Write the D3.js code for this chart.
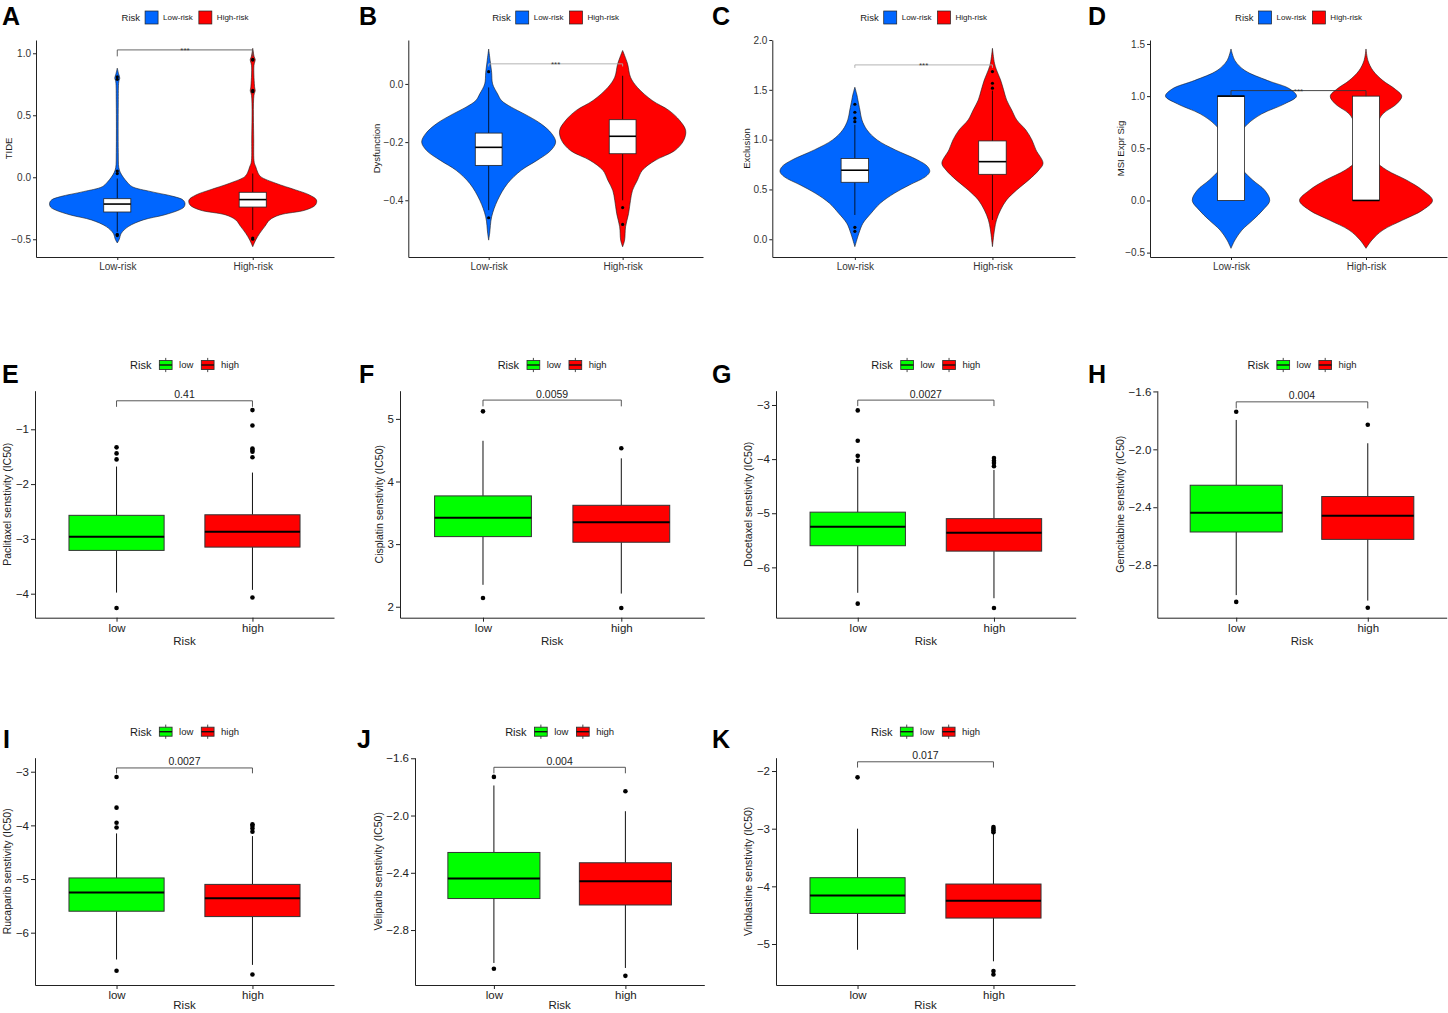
<!DOCTYPE html>
<html><head><meta charset="utf-8">
<script src="https://cdn.jsdelivr.net/npm/d3@7"></script>
<style>body{margin:0;background:#fff} svg{display:block} text{font-family:"Liberation Sans",Arial,Helvetica,sans-serif}</style>
</head><body><svg id="c" width="1448" height="1013"></svg>
<script>
// ===== DATA =====
const riskGroups = ["Low-risk", "High-risk"];
const drugGroups = ["low", "high"];
const legendTitle = "Risk";

// --- violin panels (A-D) ---
const violinLetters = ["A", "B", "C", "D"];
const violinTitles = ["TIDE", "Dysfunction", "Exclusion", "MSI Expr Sig"];
const violinLimits = [[-0.643, 1.107], [-0.595, 0.151], [-0.178, 2.0], [-0.542, 1.538]];
const violinTicks = [[-0.5, 0, 0.5, 1.0], [-0.4, -0.2, 0.0], [0, 0.5, 1.0, 1.5, 2.0], [-0.5, 0, 0.5, 1.0, 1.5]];
const violinSig = ["***", "***", "***", "***"];
const violinBracket = [[1.027, 0.975], [0.069, 0.060], [1.75, 1.72], [1.053, 1.0]];

// density profiles [value, relative density]
const tideLow = [[0.88,0],[0.83,1.5],[0.8,2.5],[0.77,1.5],[0.6,1],[0.2,1],[0.08,1.5],[0.04,3],[0.0,6],[-0.04,10],[-0.076,15],[-0.116,34],[-0.156,57],[-0.183,66],[-0.21,68],[-0.24,67],[-0.264,62],[-0.304,47],[-0.344,26],[-0.398,11],[-0.452,4],[-0.5,2],[-0.53,0]];
const tideHigh = [[1.04,0],[0.97,1.5],[0.95,2.5],[0.9,1.2],[0.72,2],[0.7,2.5],[0.66,1.2],[0.3,1],[0.12,1.5],[0.086,3],[0.04,5],[0.005,8],[-0.048,23],[-0.102,43],[-0.143,57],[-0.183,64],[-0.223,63],[-0.264,53],[-0.304,27],[-0.344,17],[-0.398,12],[-0.452,7],[-0.506,3],[-0.56,0]];
const dysLow = [[0.12,0],[0.08,1.5],[0.04,3],[0.0,4],[-0.034,9],[-0.057,13],[-0.08,23],[-0.103,36],[-0.137,53],[-0.171,64],[-0.2,68],[-0.229,63],[-0.263,49],[-0.297,33],[-0.343,19],[-0.4,9],[-0.457,3],[-0.514,1],[-0.537,0]];
const dysHigh = [[0.115,0],[0.069,5],[0.023,8],[-0.012,15],[-0.057,30],[-0.091,47],[-0.126,58],[-0.16,64],[-0.194,62],[-0.229,53],[-0.263,33],[-0.297,20],[-0.331,15],[-0.366,10],[-0.4,8],[-0.446,6],[-0.491,3],[-0.537,2],[-0.56,0]];
const excLow = [[1.526,0],[1.45,2],[1.398,3],[1.297,5],[1.197,7],[1.097,12],[0.997,22],[0.897,40],[0.796,62],[0.729,72],[0.679,74],[0.629,70],[0.545,54],[0.462,39],[0.361,25],[0.261,16],[0.161,8],[0.06,4],[-0.074,0]];
const excHigh = [[1.917,0],[1.767,2],[1.7,4],[1.6,8],[1.5,11],[1.398,14],[1.298,19],[1.198,24],[1.097,33],[0.997,39],[0.897,43],[0.763,50],[0.696,46],[0.596,36],[0.495,24],[0.395,14],[0.294,8],[0.194,4],[0.094,2],[-0.074,0]];
const msiLow = [[1.452,0],[1.34,4],[1.245,14],[1.149,37],[1.07,59],[1.0,66],[0.926,54],[0.83,31],[0.735,17],[0.64,9],[0.512,4],[0.385,6],[0.29,12],[0.194,22],[0.098,34],[0,39],[-0.093,32],[-0.188,22],[-0.284,11],[-0.379,4],[-0.459,0]];
const msiHigh = [[1.452,0],[1.34,2],[1.245,7],[1.149,17],[1.07,29],[1.0,36],[0.926,31],[0.83,17],[0.735,11],[0.64,6],[0.512,4],[0.385,9],[0.29,21],[0.194,41],[0.098,57],[0,67],[-0.093,57],[-0.188,37],[-0.284,17],[-0.379,6],[-0.459,0]];
const violinProfiles = [[tideLow, tideHigh], [dysLow, dysHigh], [excLow, excHigh], [msiLow, msiHigh]];

// box stats [whiskerLow, q1, median, q3, whiskerHigh]
const violinBoxes = [
  [[-0.44, -0.28, -0.216, -0.173, -0.01], [-0.425, -0.24, -0.18, -0.121, 0.03]],
  [[-0.434, -0.28, -0.218, -0.169, -0.012], [-0.4, -0.24, -0.18, -0.123, 0.028]],
  [[0.244, 0.572, 0.693, 0.81, 1.15], [0.194, 0.652, 0.779, 0.987, 1.492]],
  [[0, 0, 1, 1, 1], [0, 0, 0, 1, 1]]
];
const violinOutliers = [
  [[0.79, 0.81, 0.05, 0.03, -0.47, -0.46], [0.95, 0.945, 0.70, 0.69, -0.49, -0.5]],
  [[0.042, -0.46], [-0.425, -0.483]],
  [[1.18, 1.215, 1.275, 1.355, 0.08, 0.12], [1.516, 1.566, 1.683]],
  [[], []]
];

// --- drug sensitivity panels (E-K) ---
const drugLetters = ["E", "F", "G", "H", "I", "J", "K"];
const drugNames = ["Paclitaxel", "Cisplatin", "Docetaxel", "Gemcitabine", "Rucaparib", "Veliparib", "Vinblastine"];
const drugPValues = ["0.41", "0.0059", "0.0027", "0.004", "0.0027", "0.004", "0.017"];
const drugLimits = [[-4.438, -0.296], [1.825, 5.45], [-6.93, -2.736], [-3.163, -1.595], [-6.975, -2.739], [-3.184, -1.596], [-5.711, -1.769]];
const drugTicks = [[-4, -3, -2, -1], [2, 3, 4, 5], [-6, -5, -4, -3], [-2.8, -2.4, -2.0, -1.6], [-6, -5, -4, -3], [-2.8, -2.4, -2.0, -1.6], [-5, -4, -3, -2]];
const drugTickFormats = ["d", "d", "d", ".1f", "d", ".1f", "d"];
const drugBoxes = [
  [[-3.98, -3.21, -2.96, -2.57, -1.68], [-3.93, -3.15, -2.87, -2.56, -1.79]],
  [[2.35, 3.12, 3.42, 3.77, 4.65], [2.21, 3.03, 3.35, 3.62, 4.37]],
  [[-6.47, -5.6, -5.25, -4.98, -4.14], [-6.57, -5.7, -5.36, -5.1, -4.2]],
  [[-3.007, -2.571, -2.438, -2.248, -1.797], [-3.045, -2.622, -2.459, -2.326, -1.958]],
  [[-6.5, -5.6, -5.25, -4.98, -4.15], [-6.6, -5.7, -5.36, -5.1, -4.2]],
  [[-3.03, -2.58, -2.44, -2.258, -1.79], [-3.065, -2.625, -2.46, -2.33, -1.97]],
  [[-5.1, -4.47, -4.16, -3.85, -3.0], [-5.3, -4.55, -4.25, -3.96, -3.08]]
];
const drugOutliers = [
  [[-1.33, -1.44, -1.55, -4.26], [-0.65, -0.93, -1.35, -1.38, -1.41, -1.51, -4.07]],
  [[5.12, 2.14], [4.53, 1.98]],
  [[-3.1, -3.66, -3.94, -4.03, -6.67], [-3.98, -4.03, -4.07, -4.13, -6.75]],
  [[-1.74, -3.054], [-1.83, -3.094]],
  [[-3.1, -3.67, -3.95, -4.04, -6.71], [-3.98, -4.01, -4.06, -4.12, -6.78]],
  [[-1.73, -3.07], [-1.83, -3.12]],
  [[-2.11], [-2.97, -3.0, -3.03, -3.06, -5.47, -5.53]]
];
const drugBracket = [[-0.48, -0.59], [5.3, 5.2], [-2.91, -3.02], [-1.672, -1.717], [-2.93, -3.03], [-1.663, -1.705], [-1.84, -1.94]];

// ===== STYLE / LAYOUT =====
const riskColors = ["#0066FF", "#FF0000"];
const drugColors = ["#00FF00", "#FF0000"];
const vLayout = {
  left: [36, 408.3, 772.3, 1150], right: [334, 703, 1075, 1447], top: 40, bottom: 257,
  titleX: [8.3, 377, 747, 1120.5], letterX: [2, 359, 712, 1088], letterY: 25, legendY: 17.5,
  bracketColor: ["#555", "#aaa", "#aaa", "#333"]
};
const dLayout = {
  left: [35, 400, 776, 1157.3, 35, 415, 776], right: [334, 704.3, 1075.7, 1446.7, 334, 704.3, 1075],
  top: [390.7, 390.7, 390.7, 390.7, 757.7, 757.7, 757.7], bottom: [617.7, 617.7, 617.7, 617.7, 985, 985, 985],
  titleX: [7.5, 379, 748.5, 1120.5, 7.5, 378.5, 748.5], letterX: [2, 359, 712, 1088, 3, 357, 712],
  letterY: [383, 383, 383, 383, 748, 748, 748], legendY: [365, 365, 365, 365, 731.7, 731.7, 731.7],
  xTitleY: [645, 645, 645, 645, 1009, 1009, 1009]
};

const svg = d3.select("#c");

function legend(cx, cy, labels, colors, opt) {
  const g = svg.append("g");
  let xp = 0;
  const t = g.append("text").attr("x", 0).attr("y", cy).attr("dy", "0.35em")
    .attr("font-size", opt.titleSize).attr("fill", "#1a1a1a").text(legendTitle);
  xp += t.node().getComputedTextLength() + opt.gap1;
  labels.forEach((lab, k) => {
    if (opt.box) {
      const kw = 12.7, kh = 9;
      g.append("line").attr("x1", xp + kw / 2).attr("x2", xp + kw / 2).attr("y1", cy - kh / 2 - 2.6).attr("y2", cy + kh / 2 + 2.6)
        .attr("stroke", "#333").attr("stroke-width", 0.9);
      g.append("rect").attr("x", xp).attr("y", cy - kh / 2).attr("width", kw).attr("height", kh)
        .attr("fill", colors[k]).attr("stroke", "#333").attr("stroke-width", 0.9);
      g.append("line").attr("x1", xp).attr("x2", xp + kw).attr("y1", cy).attr("y2", cy).attr("stroke", "#111").attr("stroke-width", 1.4);
      xp += kw + opt.gap2;
    } else {
      g.append("rect").attr("x", xp).attr("y", cy - 6.5).attr("width", 13).attr("height", 13)
        .attr("fill", colors[k]).attr("stroke", "#222").attr("stroke-width", 0.7);
      xp += 13 + opt.gap2;
    }
    const lt = g.append("text").attr("x", xp).attr("y", cy).attr("dy", "0.35em")
      .attr("font-size", opt.labelSize).attr("fill", "#1a1a1a").text(lab);
    xp += lt.node().getComputedTextLength() + opt.gap3;
  });
  xp -= opt.gap3;
  g.attr("transform", `translate(${cx - xp / 2},0)`);
}

function styleAxis(g, size, color) {
  g.select(".domain").attr("stroke", "#222").attr("stroke-width", 1);
  g.selectAll(".tick line").attr("stroke", "#222").attr("stroke-width", 1);
  g.selectAll(".tick text").attr("font-size", size).attr("fill", color).attr("font-family", '"Liberation Sans",Arial,sans-serif');
}

// ===== VIOLIN PANELS =====
violinTitles.forEach((title, i) => {
  const L = vLayout.left[i], R = vLayout.right[i], T = vLayout.top, B = vLayout.bottom;
  const x = d3.scalePoint().domain(riskGroups).range([L, R]).padding(0.6);
  const step = x.step();
  const y = d3.scaleLinear().domain(violinLimits[i]).range([B, T]);
  const w = d3.scaleLinear().domain([0, 68]).range([0, 0.5 * step]);
  const g = svg.append("g");

  riskGroups.forEach((grp, j) => {
    const cx = x(grp);
    const area = d3.area().y(d => y(d[0])).x0(d => cx - w(d[1])).x1(d => cx + w(d[1])).curve(d3.curveCatmullRom);
    g.append("path").attr("d", area(violinProfiles[i][j])).attr("fill", riskColors[j])
      .attr("stroke", "#1a1a1a").attr("stroke-width", 0.6);
    const [wl, q1, med, q3, wh] = violinBoxes[i][j];
    const bw = 0.2 * step;
    if (wh > q3) g.append("line").attr("x1", cx).attr("x2", cx).attr("y1", y(q3)).attr("y2", y(wh)).attr("stroke", "#000").attr("stroke-width", 0.8);
    if (wl < q1) g.append("line").attr("x1", cx).attr("x2", cx).attr("y1", y(q1)).attr("y2", y(wl)).attr("stroke", "#000").attr("stroke-width", 0.8);
    g.append("rect").attr("x", cx - bw / 2).attr("width", bw).attr("y", y(q3)).attr("height", y(q1) - y(q3))
      .attr("fill", "#fff").attr("stroke", "#222").attr("stroke-width", 0.8);
    g.append("line").attr("x1", cx - bw / 2).attr("x2", cx + bw / 2).attr("y1", y(med)).attr("y2", y(med))
      .attr("stroke", "#000").attr("stroke-width", 1.6);
    g.selectAll(null).data(violinOutliers[i][j]).enter().append("circle")
      .attr("cx", cx).attr("cy", d => y(d)).attr("r", 1.6).attr("fill", "#000");
  });

  // bracket
  const [by, bt] = violinBracket[i];
  const x1 = x(riskGroups[0]), x2 = x(riskGroups[1]);
  g.append("path").attr("d", `M${x1},${y(bt)}V${y(by)}H${x2}V${y(bt)}`).attr("fill", "none")
    .attr("stroke", vLayout.bracketColor[i]).attr("stroke-width", 0.9);
  g.append("text").attr("x", (x1 + x2) / 2).attr("y", y(by) + 3).attr("text-anchor", "middle")
    .attr("font-size", 8).attr("fill", "#333").text(violinSig[i]);

  // axes
  const ya = g.append("g").attr("transform", `translate(${L},0)`)
    .call(d3.axisLeft(y).tickValues(violinTicks[i]).tickFormat(d3.format(".1f")).tickSize(3).tickSizeOuter(0).tickPadding(2));
  styleAxis(ya, 10, "#333");
  const xa = g.append("g").attr("transform", `translate(0,${B})`)
    .call(d3.axisBottom(x).tickSize(3).tickSizeOuter(0).tickPadding(3));
  styleAxis(xa, 10, "#333");

  g.append("text").attr("transform", `translate(${vLayout.titleX[i] + 3.3},${(T + B) / 2}) rotate(-90)`)
    .attr("text-anchor", "middle").attr("font-size", 9.5).attr("fill", "#1a1a1a").text(title);
  svg.append("text").attr("x", vLayout.letterX[i]).attr("y", vLayout.letterY).attr("font-size", 25)
    .attr("font-weight", "bold").attr("fill", "#000").text(violinLetters[i]);
  legend((L + R) / 2, vLayout.legendY, riskGroups, riskColors, { titleSize: 9.5, labelSize: 8, gap1: 5, gap2: 5, gap3: 6, box: false });
});

// ===== DRUG BOX PANELS =====
drugNames.forEach((drug, i) => {
  const L = dLayout.left[i], R = dLayout.right[i], T = dLayout.top[i], B = dLayout.bottom[i];
  const x = d3.scalePoint().domain(drugGroups).range([L, R]).padding(0.6);
  const step = x.step();
  const y = d3.scaleLinear().domain(drugLimits[i]).range([B, T]);
  const g = svg.append("g");

  drugGroups.forEach((grp, j) => {
    const cx = x(grp);
    const [wl, q1, med, q3, wh] = drugBoxes[i][j];
    const bw = 0.7 * step;
    g.append("line").attr("x1", cx).attr("x2", cx).attr("y1", y(q3)).attr("y2", y(wh)).attr("stroke", "#111").attr("stroke-width", 1);
    g.append("line").attr("x1", cx).attr("x2", cx).attr("y1", y(q1)).attr("y2", y(wl)).attr("stroke", "#111").attr("stroke-width", 1);
    g.append("rect").attr("x", cx - bw / 2).attr("width", bw).attr("y", y(q3)).attr("height", y(q1) - y(q3))
      .attr("fill", drugColors[j]).attr("stroke", "#333").attr("stroke-width", 1);
    g.append("line").attr("x1", cx - bw / 2).attr("x2", cx + bw / 2).attr("y1", y(med)).attr("y2", y(med))
      .attr("stroke", "#000").attr("stroke-width", 2);
    g.selectAll(null).data(drugOutliers[i][j]).enter().append("circle")
      .attr("cx", cx).attr("cy", d => y(d)).attr("r", 2.3).attr("fill", "#000");
  });

  const [by, bt] = drugBracket[i];
  const x1 = x(drugGroups[0]), x2 = x(drugGroups[1]);
  g.append("path").attr("d", `M${x1},${y(bt)}V${y(by)}H${x2}V${y(bt)}`).attr("fill", "none")
    .attr("stroke", "#444").attr("stroke-width", 0.9);
  g.append("text").attr("x", (x1 + x2) / 2).attr("y", y(by) - 2.5).attr("text-anchor", "middle")
    .attr("font-size", 10.5).attr("fill", "#222").text(drugPValues[i]);

  const ya = g.append("g").attr("transform", `translate(${L},0)`)
    .call(d3.axisLeft(y).tickValues(drugTicks[i]).tickFormat(d3.format(drugTickFormats[i])).tickSize(4).tickSizeOuter(0).tickPadding(2));
  styleAxis(ya, 11.5, "#222");
  const xa = g.append("g").attr("transform", `translate(0,${B})`)
    .call(d3.axisBottom(x).tickSize(4).tickSizeOuter(0).tickPadding(2));
  styleAxis(xa, 11.5, "#222");

  g.append("text").attr("x", (L + R) / 2).attr("y", dLayout.xTitleY[i]).attr("text-anchor", "middle")
    .attr("font-size", 11.5).attr("fill", "#222").text(legendTitle);
  g.append("text").attr("transform", `translate(${dLayout.titleX[i] + 3.6},${(T + B) / 2}) rotate(-90)`)
    .attr("text-anchor", "middle").attr("font-size", 10.5).attr("fill", "#222").text(drug + " senstivity (IC50)");
  svg.append("text").attr("x", dLayout.letterX[i]).attr("y", dLayout.letterY[i]).attr("font-size", 25)
    .attr("font-weight", "bold").attr("fill", "#000").text(drugLetters[i]);
  legend((L + R) / 2, dLayout.legendY[i], drugGroups, drugColors, { titleSize: 11, labelSize: 9.5, gap1: 8, gap2: 7, gap3: 8, box: true });
});
</script></body></html>
